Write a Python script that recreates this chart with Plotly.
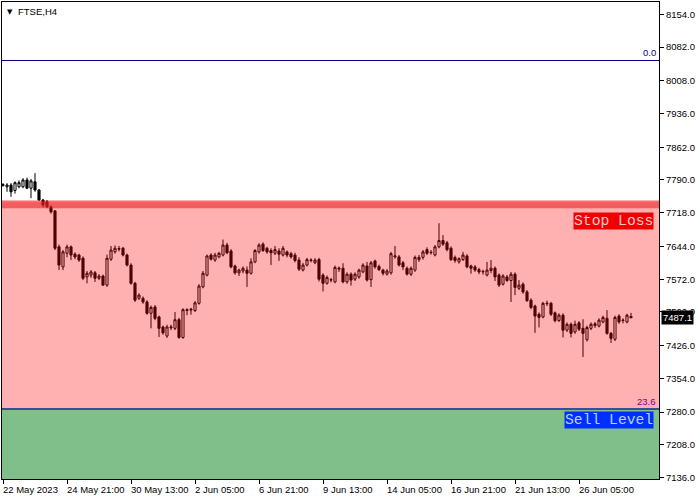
import plotly.graph_objects as go

# ---------------- data (FTSE, H4) ----------------
open_ = [7778, 7775, 7779, 7767, 7775, 7775, 7790, 7772, 7786, 7768,
         7746, 7742, 7731, 7722, 7643, 7599, 7629, 7643, 7627, 7625,
         7618, 7577, 7581, 7586, 7574, 7579, 7559, 7616, 7632, 7638,
         7640, 7625, 7603, 7563, 7530, 7530, 7522, 7497, 7511, 7489,
         7467, 7447, 7465, 7464, 7483, 7444, 7503, 7504, 7503, 7519,
         7555, 7581, 7625, 7614, 7621, 7625, 7647, 7634, 7601, 7586,
         7590, 7592, 7585, 7610, 7632, 7649, 7640, 7635, 7629, 7634,
         7625, 7632, 7628, 7625, 7614, 7592, 7603, 7613, 7608, 7615,
         7581, 7563, 7570, 7566, 7594, 7596, 7566, 7583, 7572, 7577,
         7588, 7601, 7571, 7612, 7600, 7592, 7583, 7586, 7621, 7621,
         7608, 7596, 7583, 7592, 7615, 7620, 7637, 7630, 7625, 7643,
         7657, 7652, 7640, 7620, 7610, 7615, 7623, 7601, 7599, 7593,
         7588, 7581, 7591, 7596, 7581, 7561, 7577, 7569, 7583, 7552,
         7561, 7544, 7526, 7513, 7495, 7489, 7518, 7519, 7498, 7481,
         7493, 7460, 7473, 7456, 7476, 7464, 7439, 7464, 7470, 7469,
         7478, 7486, 7453, 7440, 7491, 7481, 7478, 7490]
high = [7783, 7783, 7783, 7787, 7789, 7794, 7795, 7792, 7805, 7770,
        7748, 7746, 7734, 7724, 7648, 7636, 7648, 7646, 7631, 7628,
        7622, 7590, 7592, 7590, 7583, 7582, 7626, 7645, 7646, 7645,
        7643, 7628, 7607, 7566, 7541, 7534, 7526, 7514, 7515, 7492,
        7470, 7472, 7472, 7500, 7487, 7508, 7508, 7509, 7524, 7561,
        7590, 7626, 7629, 7630, 7632, 7659, 7652, 7638, 7604, 7595,
        7600, 7600, 7618, 7638, 7651, 7653, 7643, 7640, 7645, 7640,
        7645, 7635, 7632, 7630, 7620, 7608, 7619, 7618, 7618, 7619,
        7585, 7580, 7575, 7602, 7600, 7607, 7587, 7587, 7587, 7595,
        7607, 7610, 7612, 7615, 7604, 7595, 7594, 7632, 7645, 7625,
        7612, 7600, 7600, 7624, 7625, 7636, 7642, 7636, 7647, 7695,
        7669, 7656, 7644, 7624, 7620, 7632, 7627, 7604, 7603, 7597,
        7593, 7610, 7614, 7600, 7585, 7583, 7581, 7588, 7587, 7570,
        7565, 7548, 7530, 7516, 7499, 7522, 7525, 7522, 7501, 7497,
        7497, 7477, 7477, 7481, 7480, 7484, 7470, 7477, 7478, 7486,
        7492, 7504, 7456, 7492, 7495, 7486, 7496, 7498]
low = [7775, 7764, 7753, 7760, 7772, 7772, 7770, 7750, 7764, 7744,
       7730, 7728, 7716, 7636, 7592, 7592, 7620, 7614, 7616, 7610,
       7570, 7563, 7575, 7566, 7570, 7557, 7555, 7612, 7628, 7633,
       7622, 7600, 7560, 7522, 7526, 7518, 7494, 7464, 7482, 7445,
       7450, 7443, 7460, 7460, 7441, 7441, 7493, 7494, 7500, 7516,
       7552, 7578, 7613, 7610, 7618, 7622, 7627, 7596, 7582, 7579,
       7585, 7555, 7582, 7607, 7628, 7632, 7628, 7603, 7625, 7612,
       7622, 7620, 7617, 7609, 7590, 7589, 7600, 7609, 7605, 7567,
       7545, 7560, 7565, 7563, 7588, 7563, 7562, 7558, 7568, 7573,
       7585, 7567, 7555, 7595, 7590, 7580, 7580, 7582, 7617, 7600,
       7592, 7580, 7579, 7588, 7610, 7615, 7625, 7626, 7622, 7640,
       7645, 7633, 7612, 7608, 7606, 7612, 7596, 7584, 7588, 7583,
       7582, 7578, 7585, 7568, 7555, 7558, 7566, 7522, 7537, 7548,
       7540, 7522, 7506, 7454, 7466, 7486, 7513, 7491, 7477, 7478,
       7444, 7456, 7444, 7452, 7458, 7401, 7435, 7460, 7465, 7466,
       7475, 7450, 7432, 7436, 7474, 7475, 7475, 7487]
close = [7780, 7779, 7764, 7784, 7784, 7790, 7772, 7788, 7768, 7746,
         7735, 7731, 7720, 7640, 7603, 7632, 7643, 7625, 7621, 7614,
         7574, 7585, 7588, 7574, 7579, 7559, 7618, 7636, 7640, 7639,
         7625, 7603, 7563, 7526, 7537, 7522, 7497, 7510, 7486, 7464,
         7454, 7467, 7467, 7483, 7444, 7505, 7505, 7506, 7520, 7557,
         7585, 7623, 7616, 7625, 7629, 7647, 7630, 7599, 7586, 7592,
         7596, 7585, 7610, 7635, 7647, 7635, 7632, 7630, 7637, 7627,
         7640, 7625, 7621, 7613, 7594, 7603, 7615, 7614, 7614, 7572,
         7563, 7576, 7571, 7598, 7596, 7566, 7583, 7570, 7583, 7592,
         7603, 7570, 7608, 7599, 7593, 7585, 7590, 7628, 7623, 7603,
         7599, 7583, 7596, 7620, 7620, 7632, 7629, 7631, 7643, 7657,
         7649, 7637, 7615, 7613, 7617, 7625, 7599, 7596, 7592, 7588,
         7589, 7592, 7596, 7577, 7559, 7579, 7569, 7583, 7554, 7559,
         7544, 7525, 7510, 7491, 7488, 7519, 7519, 7495, 7481, 7493,
         7460, 7473, 7453, 7473, 7462, 7453, 7466, 7473, 7474, 7482,
         7488, 7453, 7442, 7488, 7478, 7482, 7493, 7487.1]

x_tick_pos = [0, 16, 32, 48, 64, 80, 96, 112, 128, 144]
x_tick_text = ["22 May 2023", "24 May 21:00", "30 May 13:00", "2 Jun 05:00",
               "6 Jun 21:00", "9 Jun 13:00", "14 Jun 05:00", "16 Jun 21:00",
               "21 Jun 13:00", "26 Jun 05:00"]
y_ticks = [8154, 8082, 8008, 7936, 7862, 7790, 7718, 7644, 7572, 7500,
           7426, 7354, 7280, 7208, 7136]

fib_0 = 8052.5
fib_236 = 7287
stop_top = 7745
stop_line_lo = 7728
last_price = close[-1]

bars = list(range(len(close)))

fig = go.Figure()
fig.add_trace(go.Candlestick(
    x=bars, open=open_, high=high, low=low, close=close,
    increasing=dict(line=dict(color="black", width=1), fillcolor="white"),
    decreasing=dict(line=dict(color="black", width=1), fillcolor="black"),
    whiskerwidth=0, hoverinfo="skip", showlegend=False,
))

X0, X1 = -0.25, 164.0
Y0, Y1 = 7133, 8181

shapes = [
    dict(type="rect", xref="paper", yref="y", x0=0, x1=1, y0=Y0, y1=fib_236,
         fillcolor="rgb(128,191,138)", line=dict(width=0), layer="below"),
    dict(type="rect", xref="paper", yref="y", x0=0, x1=1, y0=fib_236, y1=stop_top,
         fillcolor="rgba(255,0,0,0.31)", line=dict(width=0), layer="above"),
    dict(type="rect", xref="paper", yref="y", x0=0, x1=1, y0=stop_line_lo, y1=stop_top,
         fillcolor="rgba(240,40,40,0.45)", line=dict(width=0), layer="above"),
    dict(type="rect", xref="paper", yref="y", x0=0, x1=1, y0=stop_line_lo, y1=stop_top - 4,
         fillcolor="rgba(230,30,30,0.25)", line=dict(width=0), layer="above"),
    dict(type="line", xref="paper", yref="y", x0=0, x1=1, y0=fib_0, y1=fib_0,
         line=dict(color="#000080", width=1), layer="above"),
    dict(type="line", xref="paper", yref="y", x0=0, x1=1, y0=fib_236, y1=fib_236,
         line=dict(color="#3A4C9C", width=2), layer="above"),
]

annotations = []
for pos, txt in zip(x_tick_pos, x_tick_text):
    annotations.append(dict(x=pos, y=0, xref="x", yref="paper", text=txt,
                            showarrow=False, xanchor="left", yanchor="top",
                            xshift=-2, yshift=-3,
                            font=dict(family="Liberation Sans", size=9.5, color="black")))

annotations += [
    dict(x=0.0045, y=0.99, xref="paper", yref="paper", text="▼", showarrow=False,
         xanchor="left", yanchor="top", yshift=1,
         font=dict(family="DejaVu Sans", size=7, color="black")),
    dict(x=0.022, y=0.99, xref="paper", yref="paper", text="FTSE,H4", showarrow=False,
         xanchor="left", yanchor="top", yshift=3,
         font=dict(family="Liberation Sans", size=9.5, color="black")),
    dict(x=0.998, y=fib_0, xref="paper", yref="y", text="0.0", showarrow=False,
         xanchor="right", yanchor="bottom", yshift=0,
         font=dict(family="Liberation Sans", size=9.5, color="#000080")),
    dict(x=0.998, y=fib_236, xref="paper", yref="y", text="23.6", showarrow=False,
         xanchor="right", yanchor="bottom", yshift=0,
         font=dict(family="Liberation Sans", size=9.5, color="#800080")),
    dict(x=162.75, y=7700, xref="x", yref="y", text="Stop Loss", showarrow=False,
         xanchor="right", yanchor="middle", bgcolor="#F00000", borderpad=0,
         font=dict(family="Liberation Mono", size=14.7, color="#FFC8C8")),
    dict(x=162.75, y=7262, xref="x", yref="y", text="Sell Level", showarrow=False,
         xanchor="right", yanchor="middle", bgcolor="#0030FF", borderpad=0,
         font=dict(family="Liberation Mono", size=14.7, color="#B8D0FF")),
    dict(x=1, y=last_price, xref="paper", yref="y", text="7487.1", showarrow=False,
         xanchor="left", yanchor="middle", xshift=2, bgcolor="black", borderpad=1,
         font=dict(family="Liberation Sans", size=9.5, color="white")),
]

fig.update_layout(
    width=700, height=500,
    margin=dict(l=2, r=41, t=2, b=21, autoexpand=False),
    paper_bgcolor="white", plot_bgcolor="white",
    shapes=shapes, annotations=annotations,
    boxgap=0.25,
    showlegend=False,
    xaxis=dict(range=[X0, X1], rangeslider=dict(visible=False),
               tickvals=x_tick_pos, showticklabels=False,
               ticks="outside", ticklen=4, tickcolor="black",
               showgrid=False, zeroline=False, automargin=False,
               showline=True, linecolor="black", linewidth=1, mirror=True),
    yaxis=dict(range=[Y0, Y1], side="right",
               tickvals=y_ticks, ticktext=[f"{v:.1f}" for v in y_ticks],
               ticks="outside", ticklen=4, tickcolor="black",
               tickfont=dict(family="Liberation Sans", size=9.5, color="black"),
               showgrid=False, zeroline=False, automargin=False,
               showline=True, linecolor="black", linewidth=1, mirror=True),
)

fig.write_html("out.html",
               config={"displayModeBar": False},
               post_script="document.body.style.margin='0px';document.body.style.overflow='hidden';")
